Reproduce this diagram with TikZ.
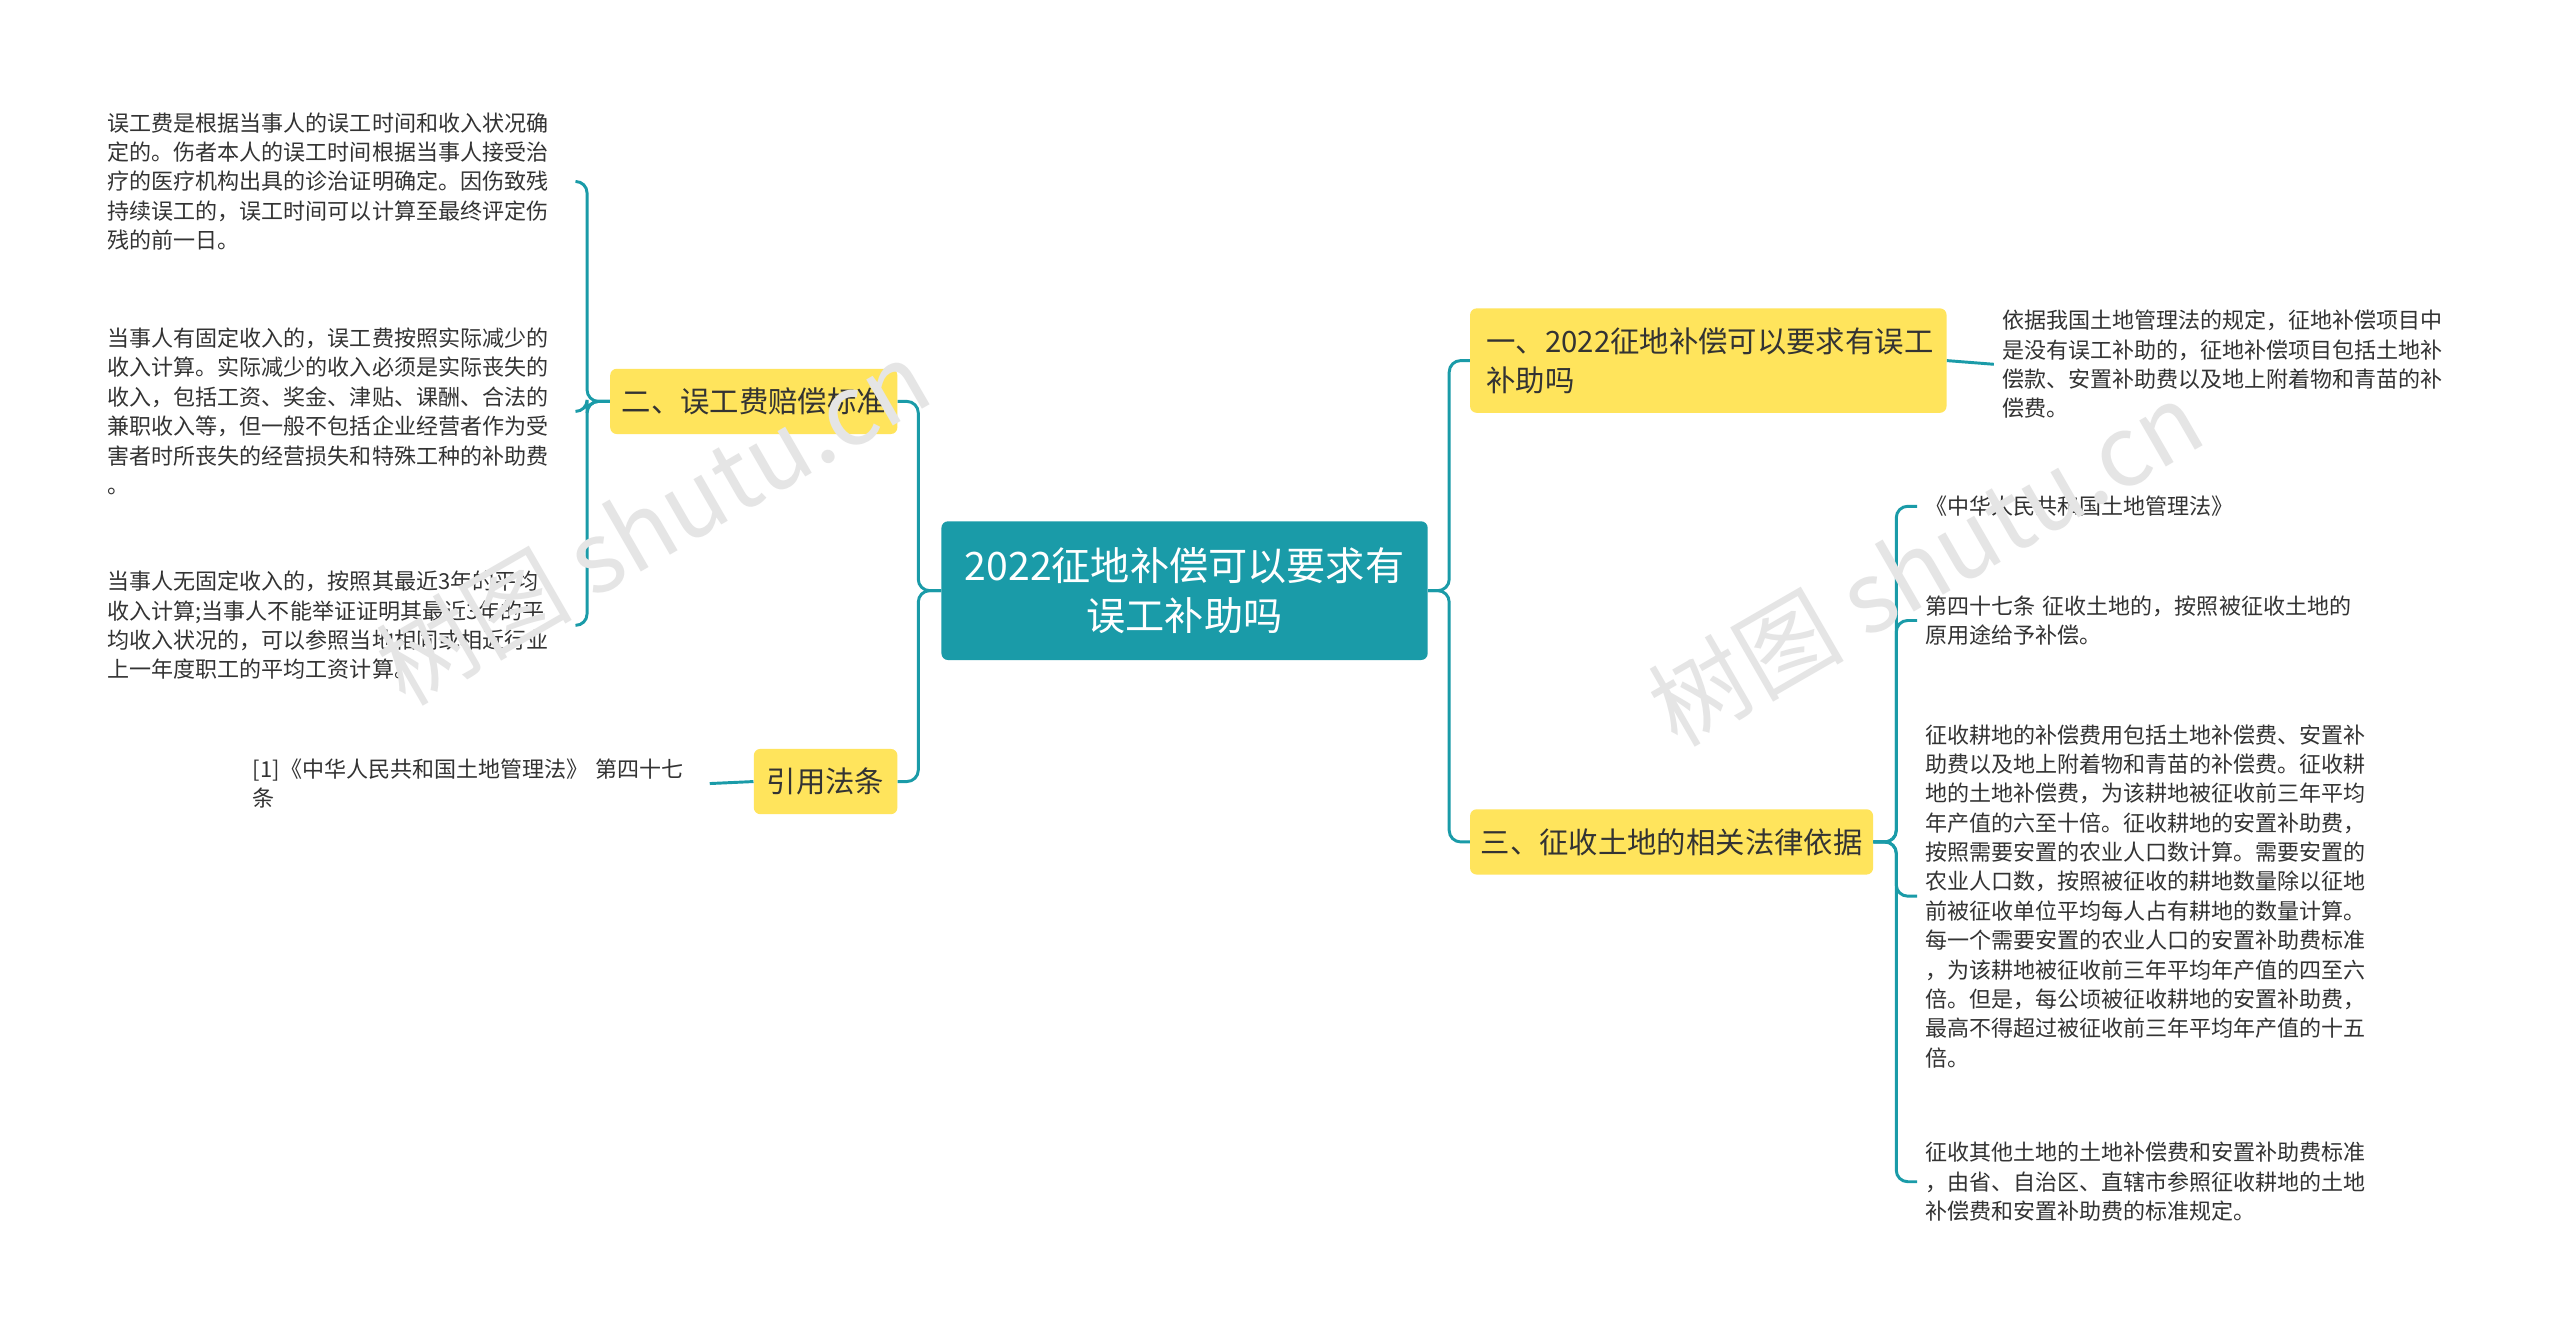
\documentclass[tikz,border=0pt]{standalone}
\usepackage{fontspec}
\setmainfont{Noto Sans CJK SC}
\usetikzlibrary{calc}
\definecolor{teal1}{HTML}{1A9BA8}
\definecolor{yel}{HTML}{FFE45C}
\definecolor{txt}{HTML}{333333}
\begin{document}
\begin{tikzpicture}[x=1pt,y=-1pt,
 conn/.style={draw=teal1,line width=1.8pt,rounded corners=7pt},
 ybox/.style={fill=yel,rounded corners=4pt,text=txt,font=\fontsize{18}{24}\selectfont,align=left,inner sep=0pt},
 leaf/.style={text=txt,font=\fontsize{13.5}{18}\selectfont,align=left,inner sep=0pt,outer sep=5pt,anchor=north west}]
\useasboundingbox[fill=white] (0,0) rectangle (1569,815);
\node[fill=teal1,rounded corners=4pt,text=white,minimum width=298,minimum height=85,align=center,font=\fontsize{24}{31}\selectfont,inner sep=0pt] (c) at (726,362) {2022征地补偿可以要求有\\误工补助吗};
\node[ybox,minimum width=292,minimum height=64,text width=272] (r1) at (1047,221) {一、2022征地补偿可以要求有误工\\补助吗};
\node[ybox,minimum width=247,minimum height=40] (r3) at (1024.5,516) {三、征收土地的相关法律依据};
\node[ybox,minimum width=176,minimum height=40] (l2) at (462,246) {二、误工费赔偿标准};
\node[ybox,minimum width=88,minimum height=40] (l4) at (506,479) {引用法条};
% leaves
\node[leaf,text width=282] (a1) at (61,64) {误工费是根据当事人的误工时间和收入状况确\\定的。伤者本人的误工时间根据当事人接受治\\疗的医疗机构出具的诊治证明确定。因伤致残\\持续误工的，误工时间可以计算至最终评定伤\\残的前一日。};
\node[leaf,text width=282] (a2) at (61,196) {当事人有固定收入的，误工费按照实际减少的\\收入计算。实际减少的收入必须是实际丧失的\\收入，包括工资、奖金、津贴、课酬、合法的\\兼职收入等，但一般不包括企业经营者作为受\\害者时所丧失的经营损失和特殊工种的补助费\\。};
\node[leaf,text width=282] (a3) at (61,345) {当事人无固定收入的，按照其最近3年的平均\\收入计算;当事人不能举证证明其最近3年的平\\均收入状况的，可以参照当地相同或相近行业\\上一年度职工的平均工资计算。};
\node[leaf,text width=275] (a4) at (150,460) {[1]《中华人民共和国土地管理法》 第四十七\\条};
\node[leaf,text width=282] (b1) at (1222,185) {依据我国土地管理法的规定，征地补偿项目中\\是没有误工补助的，征地补偿项目包括土地补\\偿款、安置补助费以及地上附着物和青苗的补\\偿费。};
\node[leaf,text width=282] (d1) at (1175,299) {《中华人民共和国土地管理法》};
\node[leaf,text width=282] (d2) at (1175,360) {第四十七条 征收土地的，按照被征收土地的\\原用途给予补偿。};
\node[leaf,text width=282] (d3) at (1175,439) {征收耕地的补偿费用包括土地补偿费、安置补\\助费以及地上附着物和青苗的补偿费。征收耕\\地的土地补偿费，为该耕地被征收前三年平均\\年产值的六至十倍。征收耕地的安置补助费，\\按照需要安置的农业人口数计算。需要安置的\\农业人口数，按照被征收的耕地数量除以征地\\前被征收单位平均每人占有耕地的数量计算。\\每一个需要安置的农业人口的安置补助费标准\\，为该耕地被征收前三年平均年产值的四至六\\倍。但是，每公顷被征收耕地的安置补助费，\\最高不得超过被征收前三年平均年产值的十五\\倍。};
\node[leaf,text width=282] (d4) at (1175,695) {征收其他土地的土地补偿费和安置补助费标准\\，由省、自治区、直辖市参照征收耕地的土地\\补偿费和安置补助费的标准规定。};
% connectors
\draw[conn] (c.east) -- ++(13,0) |- (r1.west);
\draw[conn] (c.east) -- ++(13,0) |- (r3.west);
\draw[conn] (c.west) -- ++(-14,0) |- (l2.east);
\draw[conn] (c.west) -- ++(-14,0) |- (l4.east);
\draw[conn] (l2.west) -- ++(-14,0) |- (a1.east);
\draw[conn] (l2.west) -- ++(-14,0) |- (a2.east);
\draw[conn] (l2.west) -- ++(-14,0) |- (a3.east);
\draw[conn] (l4.west) -- (a4.east);
\draw[conn] (r1.east) -- (b1.west);
\draw[conn] (r3.east) -- ++(14,0) |- (d1.west);
\draw[conn] (r3.east) -- ++(14,0) |- (d2.west);
\draw[conn] (r3.east) -- ++(14,0) |- (d3.west);
\draw[conn] (r3.east) -- ++(14,0) |- (d4.west);
% watermarks
\node[rotate=30,text=black!10,font=\fontsize{60}{60}\selectfont] (w1) at (400,320) {树图 shutu.cn};
\node[rotate=30,text=black!10,font=\fontsize{60}{60}\selectfont] (w2) at (1180,345) {树图 shutu.cn};
\end{tikzpicture}
\end{document}
